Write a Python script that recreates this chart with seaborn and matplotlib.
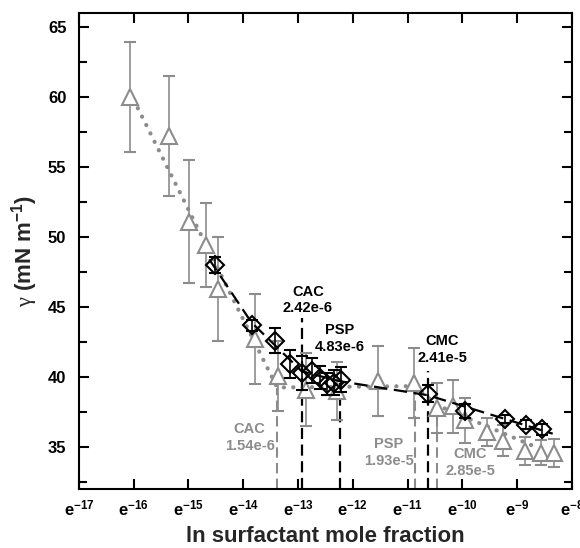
import numpy as np
import pandas as pd
import matplotlib
matplotlib.use("Agg")
import matplotlib.pyplot as plt
import seaborn as sns
from matplotlib.ticker import MultipleLocator

# ln(mole fraction) and surface tension, system 1 (grey triangles)
tri_x = [-16.07, -15.36, -14.99, -14.68, -14.46, -13.78, -13.37, -12.86, -12.28, -11.54,
         -10.88, -10.47, -10.17, -9.95, -9.55, -9.25, -8.85, -8.57, -8.33]
tri_y = [60.0, 57.2, 51.1, 49.4, 46.3, 42.7, 40.1, 39.1, 39.0, 39.7,
         39.6, 37.8, 37.9, 36.9, 36.1, 35.45, 34.7, 34.6, 34.6]
tri_err = [3.9, 4.3, 4.4, 3.0, 3.7, 3.2, 2.5, 2.6, 2.1, 2.5,
           2.5, 1.8, 1.9, 1.6, 1.0, 1.1, 1.0, 0.9, 1.0]

# system 2 (black diamonds)
dia_x = [-14.52, -13.84, -13.42, -13.15, -12.93, -12.75, -12.60, -12.47, -12.35, -12.22,
         -10.63, -9.95, -9.22, -8.84, -8.55]
dia_y = [48.0, 43.7, 42.6, 40.9, 40.3, 40.45, 39.95, 39.5, 39.6, 39.8,
         38.8, 37.6, 37.0, 36.6, 36.25]
dia_err = [0.6, 0.4, 0.9, 1.0, 1.2, 0.9, 0.8, 0.8, 0.9, 0.9,
           0.6, 0.5, 0.3, 0.3, 0.4]

# piecewise fits
fit_tri_x = [-16.0, -13.38, -10.86, -10.47, -8.6]
fit_tri_y = [59.8, 39.25, 39.35, 38.0, 34.9]
fit_dia_x = [-14.62, -13.85, -12.93, -12.24, -10.63, -8.35]
fit_dia_y = [48.4, 43.9, 40.4, 39.7, 38.7, 35.95]

# transition points: label, value, top of marker line
black_marks = ["CAC\n2.42e-6", "PSP\n4.83e-6", "CMC\n2.41e-5"]
black_vals = [2.42e-6, 4.83e-6, 2.41e-5]
black_tops = [44.2, 39.6, 40.4]
grey_marks = ["CAC\n1.54e-6", "PSP\n1.93e-5", "CMC\n2.85e-5"]
grey_vals = [1.54e-6, 1.93e-5, 2.85e-5]
grey_tops = [39.2, 39.3, 37.9]

x_ticks = list(range(-17, -7))

sns.set_style("ticks")
plt.rcParams['font.family'] = ['Liberation Sans', 'DejaVu Sans']
plt.rcParams['mathtext.fontset'] = 'custom'
plt.rcParams['mathtext.rm'] = 'Liberation Serif'
plt.rcParams['mathtext.bf'] = 'Liberation Sans:bold'
plt.rcParams['mathtext.it'] = 'Liberation Sans:italic'

GREY = '#8c8c8c'

fig = plt.figure(figsize=(5.8, 5.48), dpi=100)
ax = fig.add_axes([0.136, 0.1077, 0.850, 0.8686])

# vertical transition lines
for v, top in zip(grey_vals, grey_tops):
    ax.plot([np.log(v)] * 2, [32, top], color=GREY, lw=1.5, ls=(0, (5, 2.5)), zorder=1)
for v, top in zip(black_vals, black_tops):
    ax.plot([np.log(v)] * 2, [32, top], color='black', lw=1.6, ls=(0, (5, 2.5)), zorder=1)

# fit lines
sns.lineplot(x=fit_tri_x, y=fit_tri_y, ax=ax, color=GREY, lw=3,
             linestyle=(0, (0.05, 2.2)), dash_capstyle='round', zorder=2)
sns.lineplot(x=fit_dia_x, y=fit_dia_y, ax=ax, color='black', lw=1.6,
             linestyle=(0, (6, 3)), zorder=4)

# data with error bars
ax.errorbar(tri_x, tri_y, yerr=tri_err, fmt='^', ms=11.5, mfc='white', mec=GREY, mew=1.5,
            ecolor=GREY, elinewidth=1.2, capsize=4, capthick=1.2, zorder=3)
ax.errorbar(dia_x, dia_y, yerr=dia_err, fmt='D', ms=9.5, mfc='none', mec='black', mew=1.5,
            ecolor='black', elinewidth=1.2, capsize=4, capthick=1.2, zorder=5)

# annotations
black_pos = [(-12.82, 45.49), (-12.24, 42.74), (-10.37, 41.98)]
grey_pos = [(-13.88, 35.67), (-11.34, 34.63), (-9.86, 33.9)]
for txt, (px, py) in zip(black_marks, black_pos):
    ax.text(px, py, txt, ha='center', va='center', fontsize=10.5, fontweight='bold',
            color='black', linespacing=1.25, zorder=6)
for txt, (px, py) in zip(grey_marks, grey_pos):
    ax.text(px, py, txt, ha='center', va='center', fontsize=10.5, fontweight='bold',
            color=GREY, linespacing=1.25, zorder=6)

ax.set_xlim(-17, -8)
ax.set_ylim(32, 66)
ax.set_xticks(x_ticks)
ax.set_xticklabels([r'$\mathbf{e^{%d}}$' % t for t in x_ticks])
ax.yaxis.set_major_locator(MultipleLocator(5))
ax.yaxis.set_minor_locator(MultipleLocator(2.5))
ax.tick_params(which='both', direction='in', top=True, right=True, width=1.5, colors='black')
ax.tick_params(which='major', length=7, labelsize=12)
ax.tick_params(which='minor', length=6)
ax.tick_params(axis='y', pad=9)
ax.tick_params(axis='x', pad=7)
for lab in ax.get_yticklabels():
    lab.set_fontweight('bold')
for s in ax.spines.values():
    s.set_linewidth(1.5)
    s.set_color('black')

ax.set_xlabel('ln surfactant mole fraction', fontsize=16, fontweight='bold', labelpad=5)
ax.set_ylabel(r'$\mathrm{\gamma}$ (mN m$^{\mathbf{-1}}$)', fontsize=16, fontweight='bold', labelpad=6)

fig.savefig('out.png', dpi=100)
